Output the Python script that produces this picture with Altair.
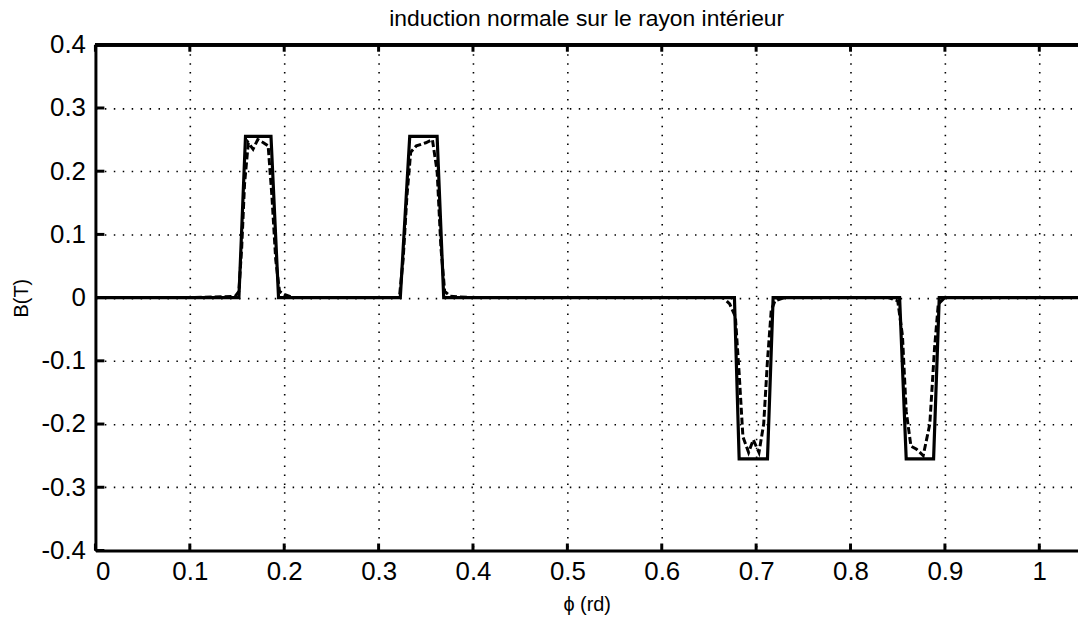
import altair as alt
import pandas as pd

title_text = "induction normale sur le rayon intérieur"
x_title = "ϕ (rd)"
y_title = "B(T)"

# ideal (trapezoidal) induction
ideal_phi = [0.0, 0.152, 0.159, 0.186, 0.194, 0.323, 0.333, 0.362, 0.369,
             0.677, 0.682, 0.712, 0.718, 0.852, 0.859, 0.888, 0.894, 1.041]
ideal_b = [0.0, 0.0, 0.255, 0.255, 0.0, 0.0, 0.255, 0.255, 0.0,
           0.0, -0.255, -0.255, 0.0, 0.0, -0.255, -0.255, 0.0, 0.0]

# computed (noisy) induction
meas_phi = [0.0, 0.05, 0.10, 0.148, 0.152, 0.155, 0.158, 0.162, 0.167, 0.172,
            0.178, 0.183, 0.187, 0.191, 0.195, 0.200, 0.21, 0.30, 0.322, 0.326,
            0.330, 0.334, 0.340, 0.350, 0.357, 0.362, 0.366, 0.370, 0.376, 0.40,
            0.60, 0.665, 0.672, 0.678, 0.682, 0.686, 0.692, 0.697, 0.703, 0.708,
            0.712, 0.716, 0.720, 0.73, 0.84, 0.850, 0.855, 0.859, 0.864, 0.870,
            0.877, 0.884, 0.889, 0.893, 0.90, 1.041]
meas_b = [0.0, 0.0, 0.0, 0.002, 0.01, 0.08, 0.18, 0.245, 0.235, 0.25,
          0.245, 0.24, 0.16, 0.06, 0.01, 0.005, 0.0, 0.0, 0.0, 0.06,
          0.16, 0.23, 0.24, 0.245, 0.25, 0.2, 0.08, 0.01, 0.002, 0.0,
          0.0, 0.0, -0.01, -0.03, -0.12, -0.22, -0.245, -0.225, -0.245, -0.2,
          -0.1, -0.02, -0.005, 0.0, 0.0, -0.005, -0.06, -0.18, -0.235, -0.24,
          -0.25, -0.2, -0.08, -0.01, 0.0, 0.0]

x_ticks = [0.0, 0.1, 0.2, 0.3, 0.4, 0.5, 0.6, 0.7, 0.8, 0.9, 1.0]
y_ticks = [-0.4, -0.3, -0.2, -0.1, 0.0, 0.1, 0.2, 0.3, 0.4]

W, H = 989, 509
FONT = "Liberation Sans"
XMAX = 1.041

ideal = pd.DataFrame({"phi": ideal_phi, "B": ideal_b, "i": range(len(ideal_phi))})
meas = pd.DataFrame({"phi": meas_phi, "B": meas_b, "i": range(len(meas_phi))})
xt = pd.DataFrame({"phi": x_ticks})
yt = pd.DataFrame({"B": y_ticks})

label_expr = "replace(format(datum.value, '.1~f'), '\u2212', '-')"

xscale = alt.Scale(domain=[0, XMAX], nice=False, zero=False)
yscale = alt.Scale(domain=[-0.4, 0.4], nice=False)

xaxis = alt.Axis(values=x_ticks, labelExpr=label_expr, title=x_title,
                 labelPadding=8, titleBaseline="alphabetic", titleY=60,
                 labelFontSize=26, titleFontSize=20, labelFont=FONT, titleFont=FONT)
yaxis = alt.Axis(values=y_ticks, labelExpr=label_expr, title=y_title,
                 labelPadding=10, titleX=-64, titleY=H / 2,
                 labelFontSize=26, titleFontSize=20, labelFont=FONT, titleFont=FONT)

base_ideal = alt.Chart(ideal).mark_line(color="black", strokeWidth=3.2, clip=True).encode(
    x=alt.X("phi:Q", scale=xscale, axis=xaxis),
    y=alt.Y("B:Q", scale=yscale, axis=yaxis),
    order="i:Q",
)

meas_line = alt.Chart(meas).mark_line(color="black", strokeWidth=3, strokeDash=[7, 3],
                                      clip=True).encode(
    x=alt.X("phi:Q", scale=xscale),
    y=alt.Y("B:Q", scale=yscale),
    order="i:Q",
)

xticks_bottom = alt.Chart(xt).mark_rule(color="black", strokeWidth=3).encode(
    x=alt.X("phi:Q", scale=xscale), y=alt.value(H), y2=alt.value(H - 7))
xticks_top = alt.Chart(xt).mark_rule(color="black", strokeWidth=3).encode(
    x=alt.X("phi:Q", scale=xscale), y=alt.value(0), y2=alt.value(7))
yticks_left = alt.Chart(yt).mark_rule(color="black", strokeWidth=3).encode(
    y=alt.Y("B:Q", scale=yscale), x=alt.value(0), x2=alt.value(9))
top_border = alt.Chart(xt).mark_rule(color="black", strokeWidth=3).encode(
    x=alt.value(0), x2=alt.value(W), y=alt.value(0))

chart = alt.layer(base_ideal, meas_line, xticks_bottom, xticks_top, yticks_left,
                  top_border).properties(
    width=W, height=H,
    title=alt.TitleParams(title_text, font=FONT, fontSize=23, fontWeight="normal",
                          color="black", anchor="middle", frame="group", offset=1),
    autosize=alt.AutoSizeParams(type="none"),
    padding={"left": 88, "top": 35, "right": 0, "bottom": 70},
).configure_view(stroke=None).configure(background="white").configure_axis(
    grid=True, gridColor="black", gridDash=[1.5, 7.5], gridWidth=1.6, gridOpacity=1,
    ticks=False, domainColor="black", domainWidth=3,
    labelFont=FONT, labelColor="black",
    titleFont=FONT, titleFontWeight="normal", titleColor="black",
)

chart.save("out.html", embed_options={"renderer": "svg", "actions": False})
